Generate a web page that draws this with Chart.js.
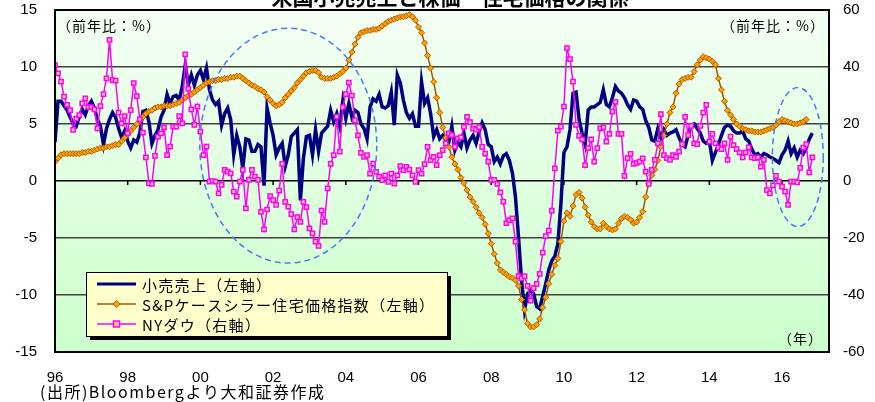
<!DOCTYPE html>
<html>
<head>
<meta charset="utf-8">
<script src="https://cdn.jsdelivr.net/npm/chart.js@4.4.1/dist/chart.umd.min.js"></script>
<style>
  html, body { margin: 0; padding: 0; background: #fff; }
  canvas { display: block; }
</style>
</head>
<body>
<canvas id="chart" width="875" height="402"></canvas>
<script>
// ---------------------------------------------------------------
// データ（月次、1996年1月〜）
// ---------------------------------------------------------------
const tickLabels = ['96', '98', '00', '02', '04', '06', '08', '10', '12', '14', '16'];
const leftTicks = [-15, -10, -5, 0, 5, 10, 15];
const rightTicks = [-60, -40, -20, 0, 20, 40, 60];

// 小売売上（左軸）
const retailSales = [
  3.4, 7.0, 7.0, 6.6, 6.2, 5.6, 5.0, 4.8, 5.6, 6.3, 5.8, 6.6,
  7.0, 6.4, 5.4, 4.8, 3.2, 4.6, 5.4, 6.0, 5.6, 4.6, 3.8, 4.4,
  3.5, 2.9, 3.6, 3.4, 4.2, 6.1, 6.2, 5.2, 3.3, 4.0, 4.5, 5.6,
  6.2, 7.6, 6.8, 7.4, 7.5, 7.1, 8.3, 10.2, 8.4, 9.3, 8.4, 9.3,
  9.7, 8.9, 9.9, 8.0, 7.1, 6.7, 7.0, 4.9, 5.9, 6.4, 5.4, 2.3,
  4.0, 3.0, 1.1, 3.7, 3.6, 2.6, 2.6, 3.2, 3.0, -0.4, 6.4, 5.1,
  4.0, 2.3, 2.9, 3.3, 1.3, 2.3, 3.9, 4.2, 4.5, -1.7, 2.0, 3.9,
  4.0, 2.3, 4.5, 2.6, 4.2, 4.5, 4.8, 6.2, 5.2, 5.9, 4.8, 7.0,
  5.5, 6.8, 5.6, 6.2, 6.0, 5.0, 4.6, 3.7, 6.5, 7.2, 7.0, 7.6,
  6.5, 6.4, 6.6, 7.8, 4.9, 9.3, 8.6, 7.1, 6.0, 5.5, 5.9, 4.8,
  4.8, 8.7, 6.8, 7.3, 5.9, 3.9, 4.5, 3.7, 4.0, 3.6, 3.4, 4.8,
  2.7, 3.4, 3.0, 4.2, 2.9, 3.6, 4.0, 3.3, 4.3, 5.1, 4.5, 3.2,
  3.0, 1.7, 2.1, 1.5, 2.2, 2.4, 1.8, 0.7, -1.4, -4.9, -8.7, -11.3,
  -9.9, -9.6, -9.9, -11.0, -11.2, -10.1, -9.0, -7.8, -7.0, -6.6, -5.5, -2.0,
  2.5, 3.0, 4.5, 7.7, 7.8, 5.4, 4.2, 3.2, 6.2, 6.5, 6.5, 6.7,
  6.9, 8.0, 6.7, 6.5, 7.3, 8.3, 7.9, 7.7, 7.3, 6.7, 6.3, 7.1,
  7.0, 6.5, 6.3, 5.3, 4.7, 3.6, 3.5, 4.6, 3.8, 4.5, 4.0, 4.2,
  4.3, 4.5, 3.8, 3.2, 3.0, 4.0, 4.9, 5.0, 4.6, 4.2, 3.5, 3.3,
  3.5, 1.8, 2.5, 3.2, 4.0, 4.7, 4.9, 4.8, 4.4, 4.2, 4.2, 4.4,
  3.7, 3.5, 2.8, 2.3, 2.4, 2.1, 2.4, 2.3, 2.1, 2.0, 1.8, 1.6,
  2.3, 2.7, 3.5, 2.4, 2.9, 2.1, 2.7, 2.4, 2.9, 3.7, 4.2
];

// S&Pケースシラー住宅価格指数（左軸）
const caseShiller = [
  1.7, 2.0, 2.3, 2.4, 2.4, 2.4, 2.4, 2.4, 2.4, 2.5, 2.5, 2.6,
  2.6, 2.7, 2.8, 2.9, 2.9, 3.0, 3.0, 3.1, 3.2, 3.2, 3.5, 3.8,
  4.1, 4.4, 4.7, 5.0, 5.3, 5.6, 5.9, 6.1, 6.2, 6.4, 6.5, 6.5,
  6.6, 6.6, 6.6, 6.7, 6.8, 6.9, 7.1, 7.3, 7.5, 7.6, 7.8, 8.0,
  8.2, 8.4, 8.6, 8.7, 8.8, 8.8, 8.9, 8.9, 9.0, 9.0, 9.1, 9.1,
  9.2, 9.2, 9.0, 8.8, 8.6, 8.4, 8.3, 8.1, 8.0, 7.8, 7.4, 7.1,
  6.8, 6.6, 6.7, 6.9, 7.3, 7.6, 7.9, 8.2, 8.6, 8.9, 9.2, 9.5,
  9.6, 9.7, 9.7, 9.5, 9.1, 9.0, 9.0, 9.0, 9.1, 9.2, 9.4, 9.6,
  9.9, 10.6, 11.3, 12.0, 12.6, 13.0, 13.1, 13.2, 13.2, 13.3, 13.3, 13.4,
  13.6, 13.8, 14.0, 14.1, 14.2, 14.3, 14.4, 14.4, 14.5, 14.6, 14.4, 14.1,
  13.5, 13.0, 12.1, 11.0, 9.9, 8.7, 7.3, 6.0, 4.7, 3.8, 3.0, 2.1,
  1.5, 1.0, 0.3, -0.2, -0.8, -1.4, -1.8, -2.3, -2.8, -3.2, -3.8, -4.6,
  -5.5, -6.4, -7.2, -7.8, -8.0, -8.2, -8.4, -8.5, -8.7, -9.2, -10.4, -11.3,
  -12.5, -12.8, -12.8, -12.6, -12.1, -11.1, -10.2, -9.0, -8.2, -7.4, -6.8, -5.3,
  -3.5, -2.8, -3.1, -2.2, -1.2, -1.0, -1.5, -2.3, -3.0, -3.6, -4.0, -4.2,
  -4.2, -3.7, -4.0, -4.2, -4.3, -4.2, -3.7, -3.3, -3.1, -3.2, -3.4, -3.7,
  -3.6, -3.2, -2.7, -1.4, -0.2, 0.5, 1.0, 1.8, 3.0, 4.0, 5.0, 6.0,
  6.5, 7.7, 8.5, 8.9, 9.0, 9.1, 9.1, 9.6, 10.2, 10.6, 10.9, 10.8,
  10.7, 10.5, 10.2, 9.0, 8.0, 7.0, 6.2, 5.8, 5.4, 5.0, 4.8, 4.6,
  4.5, 4.4, 4.4, 4.3, 4.3, 4.3, 4.4, 4.5, 4.6, 4.7, 4.9, 5.2,
  5.4, 5.3, 5.2, 5.1, 5.0, 5.0, 5.1, 5.2, 5.4
];

// NYダウ（右軸）
const nyDow = [
  40.7, 37.8, 34.9, 29.6, 26.7, 24.9, 17.9, 21.9, 23.1, 27.2, 29.0, 25.9,
  25.9, 25.1, 18.5, 26.3, 30.5, 36.0, 49.5, 35.4, 35.2, 24.0, 20.2, 22.8,
  16.7, 24.9, 34.3, 29.8, 21.6, 17.0, 8.3, -0.8, -1.0, 8.8, 15.6, 16.7,
  18.8, 9.1, 12.1, 19.1, 19.1, 22.8, 20.2, 44.4, 32.3, 25.1, 19.7, 26.1,
  17.3, 9.1, 12.1, -0.2, 0.0, -0.2, -4.3, -1.4, 3.9, 3.3, 2.7, -3.7,
  -5.5, -0.2, 3.9, -9.6, 0.4, 3.9, 1.5, 0.4, -10.8, -17.0, -10.0, -5.3,
  -6.7, -8.4, -3.4, 6.0, -7.3, -9.0, -11.6, -17.0, -12.7, -14.3, -7.3, -9.2,
  -16.6, -18.4, -21.3, -22.8, -10.4, -14.3, -2.6, 6.0, 9.1, 22.6, 10.3, 25.9,
  30.5, 34.5, 30.0, 21.3, 16.0, 9.9, 8.5, 9.1, 2.6, 6.1, 3.2, 1.5,
  0.3, 2.0, -0.3, 2.6, -0.9, 2.0, 5.2, 3.8, 5.0, 4.0, 2.0, -0.3,
  3.8, 2.6, 5.9, 12.0, 7.3, 8.5, 5.6, 9.1, 10.8, 13.2, 16.7, 16.1,
  12.0, 15.0, 15.3, 19.0, 22.5, 20.7, 18.4, 18.0, 18.9, 12.0, 9.6, 6.8,
  0.4, 0.4, -1.0, -4.0, -7.2, -14.8, -13.7, -13.1, -21.3, -33.4, -34.2, -33.4,
  -36.8, -42.0, -37.6, -36.1, -32.6, -25.1, -19.3, -17.4, -10.4, 4.4, 17.7, 19.1,
  26.1, 46.6, 42.8, 34.9, 19.7, 15.8, 14.6, 5.6, 11.5, 14.6, 6.8, 11.5,
  18.5, 18.8, 13.8, 16.5, 24.3, 27.8, 16.5, 16.5, 1.8, 8.0, 9.5, 6.0,
  6.4, 6.8, 7.9, 3.3, -1.0, 3.9, 7.4, 13.2, 23.5, 9.1, 8.0, 7.4,
  9.1, 8.5, 10.3, 12.9, 22.5, 16.1, 19.3, 13.2, 12.9, 19.3, 24.0, 26.7,
  13.8, 16.5, 13.2, 11.8, 11.2, 13.2, 7.4, 15.6, 12.6, 11.2, 10.0, 8.3,
  10.0, 11.8, 8.3, 8.0, 8.3, 5.0, 7.4, -3.2, -4.3, -1.5, 1.8, -0.2,
  -2.0, -3.7, -8.4, -0.2, -0.2, -0.5, 4.6, 11.7, 12.9, 3.0, 8.3
];

// 注目部分の楕円（中心の月、中心値、半径：月数・左軸単位）
const highlightEllipses = [
  { month: 77, value: 3.1, rMonths: 29.2, rValue: 10.3 },
  { month: 245.2, value: 2.1, rMonths: 8.4, rValue: 6.1 }
];

// ---------------------------------------------------------------
// 描画
// ---------------------------------------------------------------
const jpFont = '"Noto Sans CJK JP", "Noto Sans", sans-serif';
const numFont = '"Liberation Sans", Arial, sans-serif';

const toPoints = arr => arr.map((v, i) => ({ x: i, y: v }));

// 縦軸のラベル分の余白を付けない
const noVerticalPadding = s => {
  s.paddingTop = 0;
  s.paddingBottom = 0;
};

// 背景（グラデーション）・枠・目盛
const backgroundPlugin = {
  id: 'background',
  beforeDraw(chart) {
    const { ctx, chartArea: a } = chart;
    ctx.save();
    ctx.fillStyle = '#ffffff';
    ctx.fillRect(0, 0, chart.width, chart.height);
    const g = ctx.createLinearGradient(0, a.top, 0, a.bottom);
    g.addColorStop(0, '#f4fff4');
    g.addColorStop(1, '#ccffcc');
    ctx.fillStyle = g;
    ctx.fillRect(a.left, a.top, a.right - a.left, a.bottom - a.top);
    ctx.restore();
  },
  beforeDatasetsDraw(chart) {
    const { ctx, chartArea: a, scales } = chart;
    const y0 = scales.y.getPixelForValue(0);
    ctx.save();
    ctx.strokeStyle = '#000';
    ctx.lineWidth = 1.5;
    ctx.beginPath();
    scales.x.ticks.forEach(t => {
      const px = scales.x.getPixelForValue(t.value);
      if (px <= a.left + 1) return;
      ctx.moveTo(px, y0);
      ctx.lineTo(px, y0 + 4);
    });
    ctx.stroke();
    ctx.restore();
  },
  afterDatasetsDraw(chart) {
    const { ctx, chartArea: a, scales } = chart;
    ctx.save();
    // 楕円
    ctx.strokeStyle = '#4a7af0';
    ctx.lineWidth = 1.5;
    ctx.setLineDash([6, 4]);
    highlightEllipses.forEach(e => {
      const cx = scales.x.getPixelForValue(e.month);
      const cy = scales.y.getPixelForValue(e.value);
      const rx = scales.x.getPixelForValue(e.month + e.rMonths) - cx;
      const ry = cy - scales.y.getPixelForValue(e.value + e.rValue);
      ctx.beginPath();
      ctx.ellipse(cx, cy, rx, ry, 0, 0, Math.PI * 2);
      ctx.stroke();
    });
    ctx.setLineDash([]);

    // 枠
    ctx.strokeStyle = '#000';
    ctx.lineWidth = 2;
    ctx.strokeRect(a.left, a.top, a.right - a.left, a.bottom - a.top);
    ctx.restore();
  }
};

// 凡例・注記
const annotationPlugin = {
  id: 'annotations',
  afterDraw(chart) {
    const { ctx, chartArea: a } = chart;
    ctx.save();

    // タイトル（上端で切れている）
    ctx.fillStyle = '#000';
    ctx.font = 'bold 21px ' + jpFont;
    ctx.textAlign = 'center';
    ctx.textBaseline = 'alphabetic';
    ctx.fillText('米国小売売上と株価・住宅価格の関係', 450, 5);

    // 単位
    ctx.font = '14px ' + jpFont;
    ctx.letterSpacing = '1px';
    ctx.textBaseline = 'middle';
    ctx.textAlign = 'left';
    ctx.fillText('（前年比：%）', a.left + 2, a.top + 16);
    ctx.textAlign = 'right';
    ctx.fillText('（前年比：%）', a.right - 4, a.top + 16);
    ctx.fillText('（年）', a.right - 6, a.bottom - 13);

    // 出所
    ctx.textAlign = 'left';
    ctx.font = '16px ' + jpFont;
    ctx.letterSpacing = '1.5px';
    ctx.fillText('(出所)Bloombergより大和証券作成', 40, 392);

    // 凡例
    const box = { x: 86, y: 272, w: 361, h: 64 };
    ctx.letterSpacing = '0px';
    ctx.fillStyle = '#000';
    ctx.fillRect(box.x + 4, box.y + 4, box.w, box.h);
    ctx.fillStyle = '#ffffcc';
    ctx.fillRect(box.x, box.y, box.w, box.h);
    ctx.strokeStyle = '#000';
    ctx.lineWidth = 1;
    ctx.strokeRect(box.x + 0.5, box.y + 0.5, box.w, box.h);

    const rows = [
      { text: '小売売上（左軸）', ds: chart.data.datasets[0] },
      { text: 'S&Pケースシラー住宅価格指数（左軸）', ds: chart.data.datasets[1] },
      { text: 'NYダウ（右軸）', ds: chart.data.datasets[2] }
    ];
    rows.forEach((r, i) => {
      const yy = box.y + 12 + i * 20;
      ctx.strokeStyle = r.ds.borderColor;
      ctx.lineWidth = Math.min(r.ds.borderWidth, 3);
      ctx.beginPath();
      ctx.moveTo(97, yy);
      ctx.lineTo(136, yy);
      ctx.stroke();
      if (r.ds.pointRadius > 0) {
        ctx.fillStyle = r.ds.pointBackgroundColor;
        ctx.strokeStyle = r.ds.pointBorderColor;
        ctx.lineWidth = r.ds.pointBorderWidth;
        ctx.beginPath();
        if (r.ds.pointStyle === 'rect') {
          ctx.rect(113.5, yy - 3, 6, 6);
        } else {
          ctx.moveTo(116.5, yy - 3.5);
          ctx.lineTo(120, yy);
          ctx.lineTo(116.5, yy + 3.5);
          ctx.lineTo(113, yy);
          ctx.closePath();
        }
        ctx.fill();
        ctx.stroke();
      }
      ctx.fillStyle = '#000';
      ctx.font = '15px ' + jpFont;
      ctx.letterSpacing = '1.3px';
      ctx.textAlign = 'left';
      ctx.textBaseline = 'middle';
      ctx.fillText(r.text, 142, yy + 1);
      ctx.letterSpacing = '0px';
    });

    ctx.restore();
  }
};

new Chart(document.getElementById('chart'), {
  type: 'line',
  data: {
    datasets: [
      {
        label: '小売売上（左軸）',
        data: toPoints(retailSales),
        yAxisID: 'y',
        borderColor: '#000080',
        borderWidth: 3.5,
        pointRadius: 0,
        tension: 0,
        order: 2
      },
      {
        label: 'S&Pケースシラー住宅価格指数（左軸）',
        data: toPoints(caseShiller),
        yAxisID: 'y',
        borderColor: '#a65300',
        borderWidth: 1.5,
        pointStyle: 'rectRot',
        pointRadius: 3,
        pointBackgroundColor: '#ffa200',
        pointBorderColor: '#b35c00',
        pointBorderWidth: 1,
        tension: 0,
        order: 1
      },
      {
        label: 'NYダウ（右軸）',
        data: toPoints(nyDow),
        yAxisID: 'y2',
        borderColor: '#ff00ff',
        borderWidth: 1.5,
        pointStyle: 'rect',
        pointRadius: 3,
        pointBackgroundColor: '#ffcc80',
        pointBorderColor: '#ff00ff',
        pointBorderWidth: 1.5,
        tension: 0,
        order: 0
      }
    ]
  },
  options: {
    responsive: false,
    animation: false,
    layout: { padding: { top: 10, left: 0, right: 0, bottom: 0 } },
    plugins: {
      legend: { display: false },
      tooltip: { enabled: false }
    },
    scales: {
      x: {
        type: 'linear',
        min: 0,
        max: 255.5,
        afterBuildTicks: s => {
          s.ticks = tickLabels.map((t, i) => ({ value: i * 24 }));
        },
        afterFit: s => { s.height = 50; },
        ticks: {
          autoSkip: false,
          maxRotation: 0,
          padding: 17,
          color: '#000',
          font: { family: numFont, size: 15 },
          callback: v => tickLabels[v / 24] ?? ''
        },
        grid: { display: false, drawTicks: false },
        border: { display: false }
      },
      y: {
        position: 'left',
        min: -15,
        max: 15,
        afterBuildTicks: s => { s.ticks = leftTicks.map(v => ({ value: v })); },
        afterFit: s => { s.width = 55; noVerticalPadding(s); },
        ticks: {
          padding: 18,
          color: '#000',
          font: { family: numFont, size: 15 }
        },
        grid: {
          drawTicks: false,
          lineWidth: 1.5,
          color: c => {
            const v = c.tick ? c.tick.value : null;
            if (v === 15 || v === -15) return 'rgba(0,0,0,0)';
            return v === 0 ? '#000000' : '#404040';
          }
        },
        border: { display: false }
      },
      y2: {
        position: 'right',
        min: -60,
        max: 60,
        afterBuildTicks: s => { s.ticks = rightTicks.map(v => ({ value: v })); },
        afterFit: s => { s.width = 46; noVerticalPadding(s); },
        ticks: {
          padding: 14,
          color: '#000',
          font: { family: numFont, size: 15 }
        },
        grid: { display: false, drawTicks: false },
        border: { display: false }
      }
    }
  },
  plugins: [backgroundPlugin, annotationPlugin]
});
</script>
</body>
</html>
